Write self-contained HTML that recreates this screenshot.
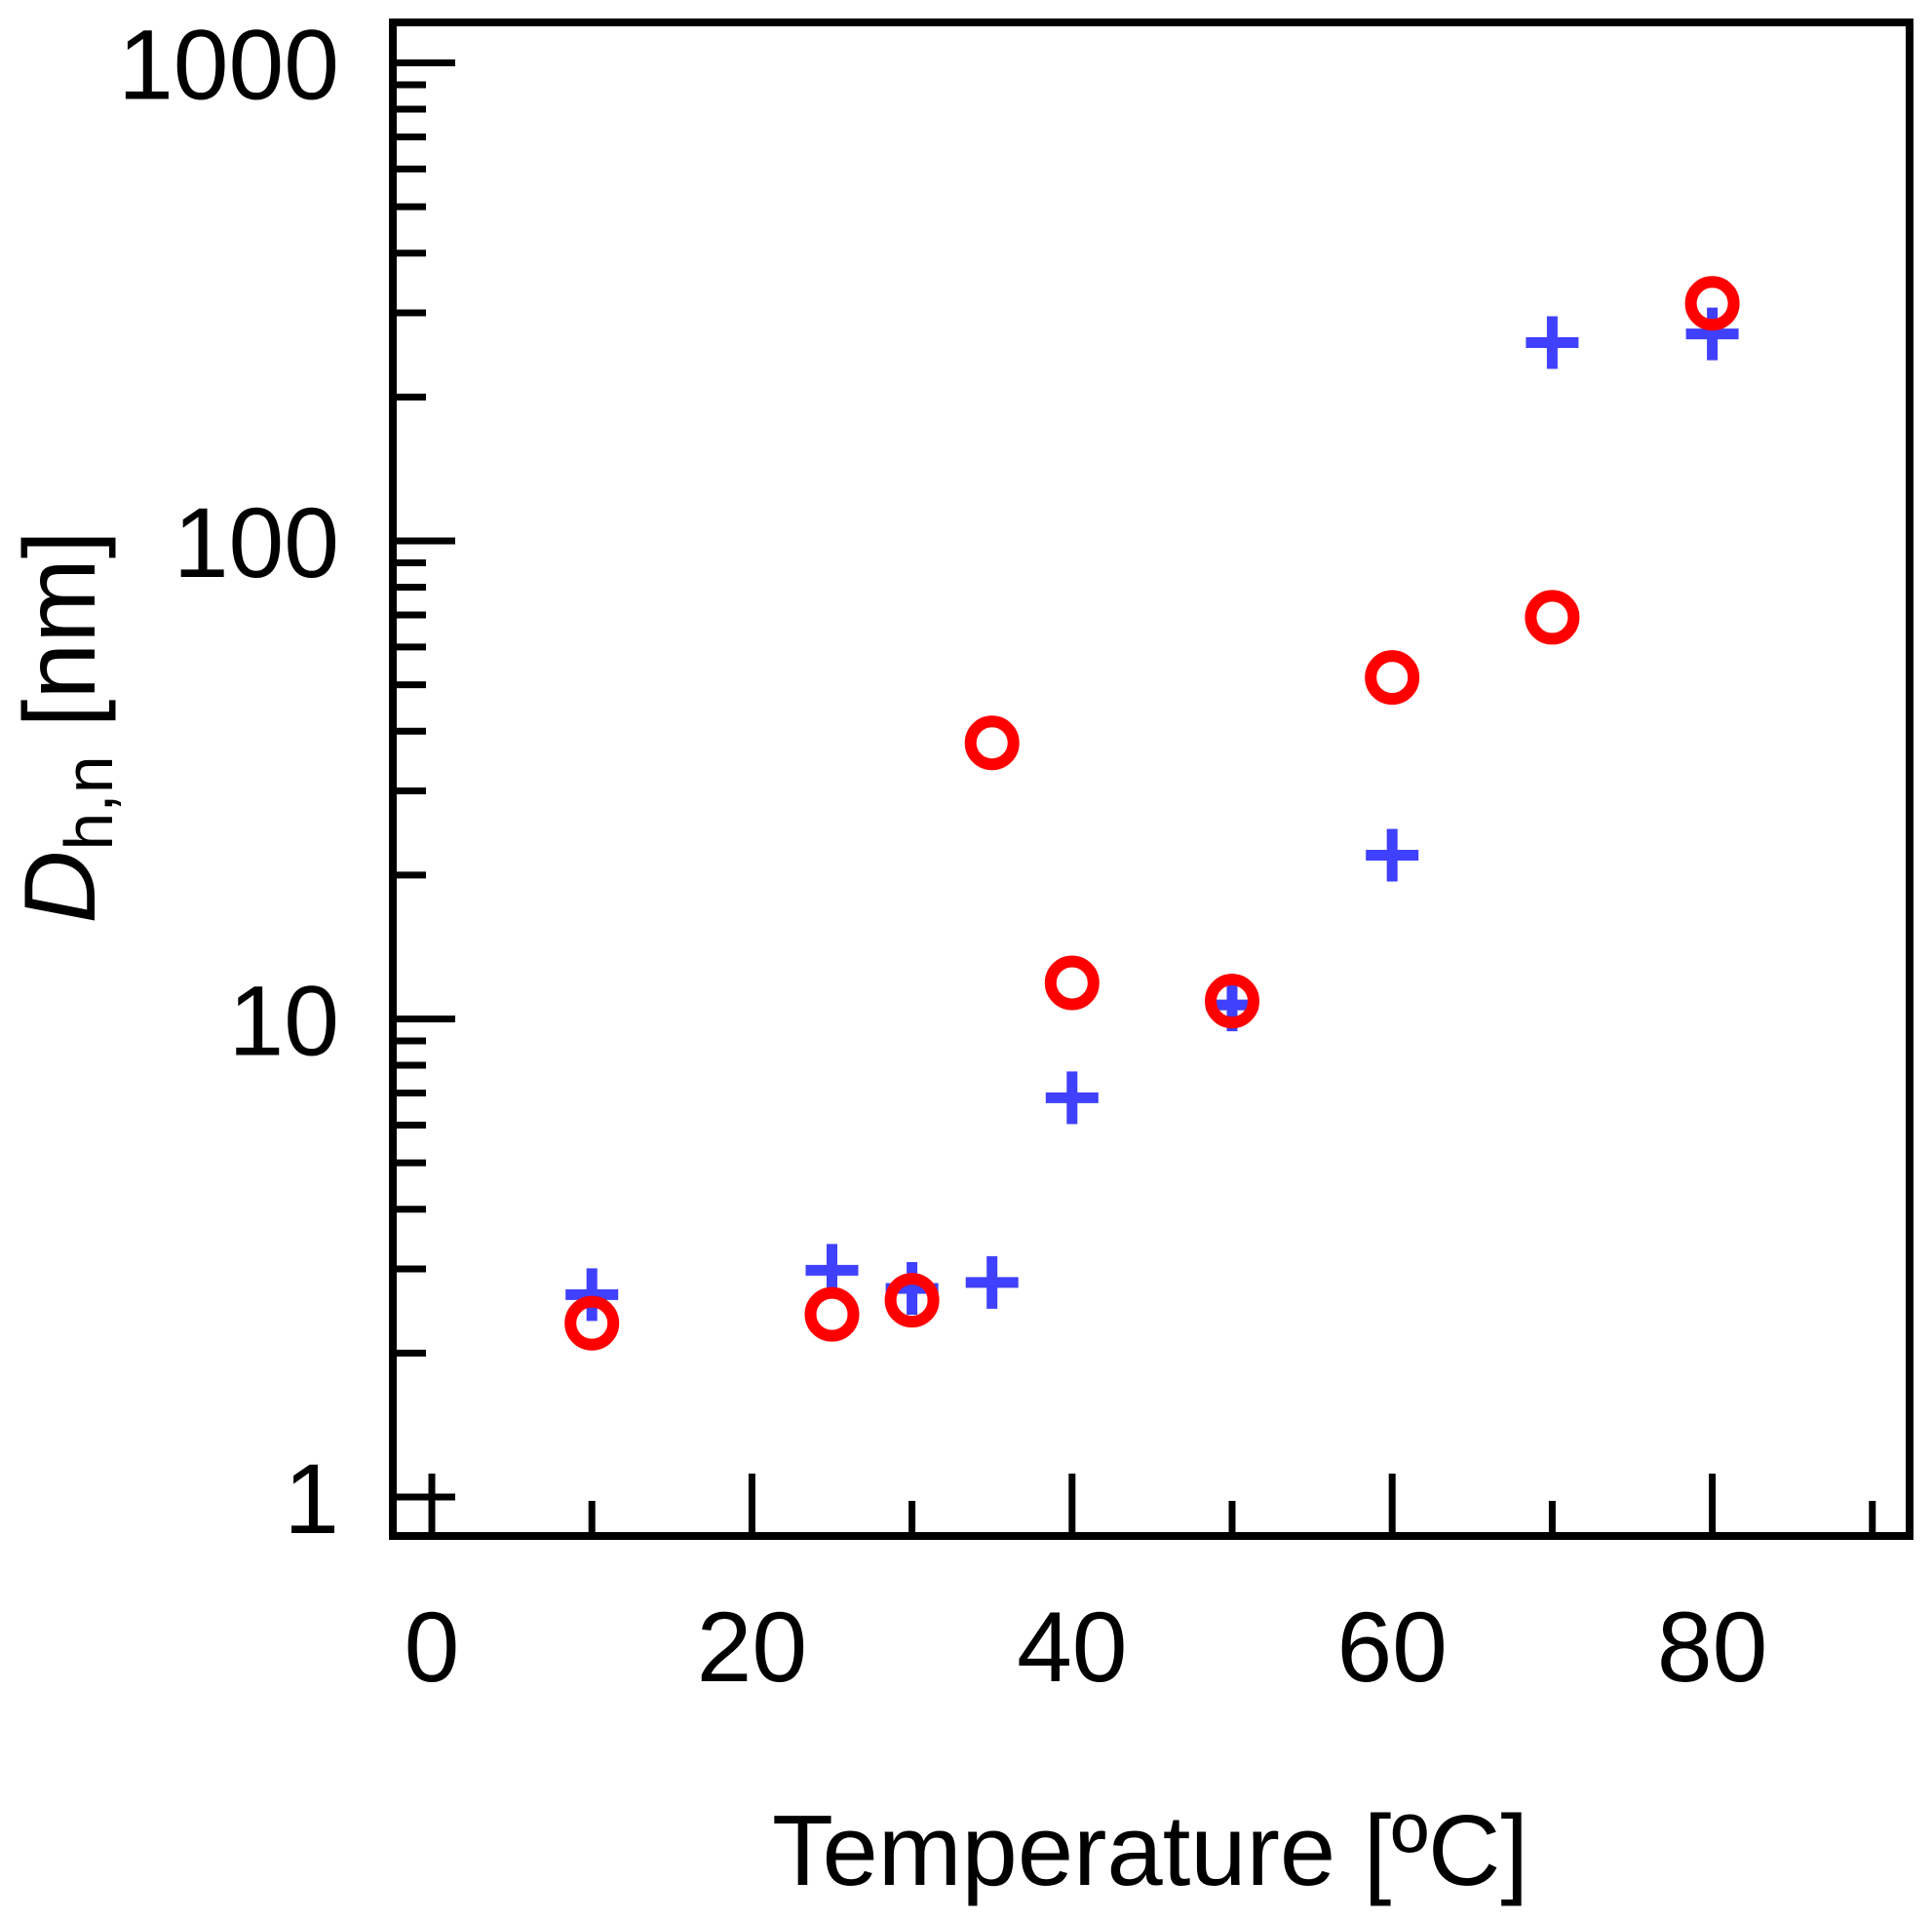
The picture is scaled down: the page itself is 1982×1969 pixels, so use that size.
<!DOCTYPE html>
<html><head><meta charset="utf-8"><style>
html,body{margin:0;padding:0;background:#fff;}
svg text{font-family:"Liberation Sans",Arial,sans-serif;fill:#000;}
</style></head><body>
<svg id="chart" width="1982" height="1964" viewBox="0 0 1982 1964" xmlns="http://www.w3.org/2000/svg">
<g id="ticks"></g>
<g id="labels"></g>
<g id="marks"></g>
<rect x="403" y="23" width="1556" height="1553" fill="none" stroke="#000" stroke-width="8"/>
<text x="1180" y="1934" font-size="103" text-anchor="middle">Temperature [ºC]</text>
<text transform="translate(97,746) rotate(-90)" font-size="104" text-anchor="middle"><tspan font-style="italic">D</tspan><tspan font-size="70" dy="18">h,n</tspan><tspan dy="-18"> [nm]</tspan></text>
</svg>
<script>
const xTicksMajor = [0, 20, 40, 60, 80];
const xTicksMinor = [10, 30, 50, 70, 90];
const yTickLabels = ["1", "10", "100", "1000"];
const yDecades = [1, 10, 100, 1000];
const temps = [10, 25, 30, 35, 40, 50, 60, 70, 80];
const crossValues = [2.65, 2.98, 2.73, 2.81, 6.84, 10.7, 22.0, 260, 271];
const circleValues = [2.31, 2.41, 2.58, 37.8, 11.9, 10.9, 51.8, 69.2, 314];

const NS = "http://www.w3.org/2000/svg";
const left = 403, bottom = 1576;
function xs(v){ return 443 + (v - 0) * 16.42; }
function ys(v){ return 1536 - Math.log10(v) * 490.5; }
function mk(tag, attrs, parent){
  const e = document.createElementNS(NS, tag);
  for (const k in attrs) e.setAttribute(k, attrs[k]);
  parent.appendChild(e);
  return e;
}
const tg = document.getElementById('ticks');
const lg = document.getElementById('labels');
const mg = document.getElementById('marks');

xTicksMajor.forEach(v => {
  const l = mk('line', {x1: xs(v), x2: xs(v), y1: bottom, y2: bottom - 64, stroke: '#000', 'stroke-width': 7}, tg);
  
  
  const t = mk('text', {x: xs(v), y: 1725, 'font-size': 102, 'text-anchor': 'middle'}, lg);
  t.textContent = String(v);
  
  
});
xTicksMinor.forEach(v => {
  const l = mk('line', {x1: xs(v), x2: xs(v), y1: bottom, y2: bottom - 36, stroke: '#000', 'stroke-width': 7}, tg);
  
  
});
yDecades.forEach((d, i) => {
  const l = mk('line', {x1: left, x2: left + 64, y1: ys(d), y2: ys(d), stroke: '#000', 'stroke-width': 7}, tg);
  
  
  const t = mk('text', {x: 348, y: ys(d) + 37, 'font-size': 102, 'text-anchor': 'end'}, lg);
  t.textContent = yTickLabels[i];
  
  
  if (d < 1000) {
    for (let m = 2; m <= 9; m++) {
      const ml = mk('line', {x1: left, x2: left + 34, y1: ys(d * m), y2: ys(d * m), stroke: '#000', 'stroke-width': 7}, tg);
      
      
    }
  }
});
temps.forEach((tv, i) => {
  const cx = xs(tv), cy = ys(crossValues[i]);
  const p = mk('path', {d: `M${cx-27},${cy}H${cx+27}M${cx},${cy-27}V${cy+27}`, stroke: '#4040ff', 'stroke-width': 11, fill: 'none'}, mg);
  
  
});
temps.forEach((tv, i) => {
  const c = mk('circle', {cx: xs(tv), cy: ys(circleValues[i]), r: 22, stroke: '#ff0000', 'stroke-width': 12, fill: 'none'}, mg);
  
  
});
</script>
</body></html>
